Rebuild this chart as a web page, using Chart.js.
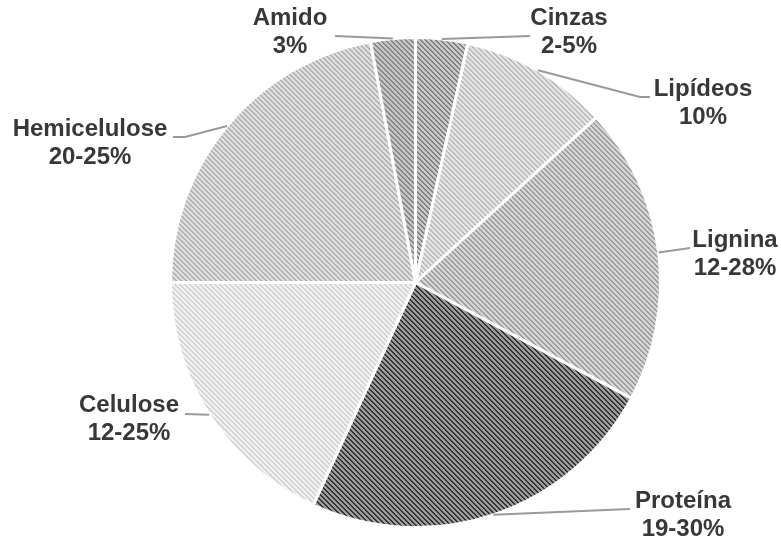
<!DOCTYPE html>
<html>
<head>
<meta charset="utf-8">
<script src="https://cdn.jsdelivr.net/npm/chart.js@4.4.1/dist/chart.umd.min.js"></script>
<style>
  html, body { margin: 0; padding: 0; background: #fff; }
  #wrap { width: 781px; height: 537px; }
</style>
</head>
<body>
<div id="wrap"><canvas id="pie" width="781" height="537"></canvas></div>
<script>
const components = ["Cinzas", "Lipídeos", "Lignina", "Proteína", "Celulose", "Hemicelulose", "Amido"];
const ranges = ["2-5%", "10%", "12-28%", "19-30%", "12-25%", "20-25%", "3%"];
// slice size = middle of each reported range
const shares = [3.5, 10, 20, 24.5, 18.5, 22.5, 3];

// hatch colours per slice: [ground, stripe]
const hatchColors = [
  ["#c8c8c8", "#808080"],
  ["#e4e4e4", "#bababa"],
  ["#d4d4d4", "#9c9c9c"],
  ["#9c9c9c", "#323232"],
  ["#f0f0f0", "#d2d2d2"],
  ["#dedede", "#b0b0b0"],
  ["#c4c4c4", "#868686"]
];

// leader bend points and text centre for each label
const labelLayout = [
  { path: [[530, 36]], x: 569, y: 18 },
  { path: [[640, 97], [650, 97]], x: 703, y: 89 },
  { path: [[690, 248]], x: 735, y: 240 },
  { path: [[630, 509]], x: 683, y: 501 },
  { path: [[185, 414]], x: 129, y: 405 },
  { path: [[185, 137], [173, 137]], x: 90, y: 129 },
  { path: [[335, 36]], x: 290, y: 18 }
];

// small tile with "\" stripes, 5px period
function hatch(ground, stripe) {
  const size = 5;
  const tile = document.createElement("canvas");
  tile.width = size;
  tile.height = size;
  const t = tile.getContext("2d");
  t.fillStyle = ground;
  t.fillRect(0, 0, size, size);
  t.fillStyle = stripe;
  for (let y = 0; y < size; y++) {
    for (let x = 0; x < size; x++) {
      const d = ((x - y) % size + size) % size;
      if (d === 0 || d === 1) t.fillRect(x, y, 1, 1);
    }
  }
  return t.createPattern(tile, "repeat");
}

const calloutPlugin = {
  id: "callouts",
  afterDatasetsDraw(chart) {
    const ctx = chart.ctx;
    const arcs = chart.getDatasetMeta(0).data;
    ctx.save();
    arcs.forEach((arc, i) => {
      const { x, y, startAngle, endAngle, outerRadius } =
        arc.getProps(["x", "y", "startAngle", "endAngle", "outerRadius"]);
      const mid = (startAngle + endAngle) / 2;
      const spot = labelLayout[i];

      ctx.strokeStyle = "#9a9a9a";
      ctx.lineWidth = 2;
      ctx.beginPath();
      ctx.moveTo(x + Math.cos(mid) * outerRadius, y + Math.sin(mid) * outerRadius);
      spot.path.forEach((p) => ctx.lineTo(p[0], p[1]));
      ctx.stroke();

      ctx.fillStyle = "#383838";
      ctx.font = "bold 24px 'Liberation Sans', Arial, sans-serif";
      ctx.textAlign = "center";
      ctx.textBaseline = "middle";
      ctx.fillText(components[i], spot.x, spot.y);
      ctx.fillText(ranges[i], spot.x, spot.y + 28);
    });
    ctx.restore();
  }
};

new Chart(document.getElementById("pie").getContext("2d"), {
  type: "pie",
  data: {
    labels: components,
    datasets: [{
      data: shares,
      backgroundColor: hatchColors.map((c) => hatch(c[0], c[1])),
      borderColor: "#ffffff",
      borderWidth: 3
    }]
  },
  options: {
    responsive: false,
    animation: false,
    layout: { padding: { top: 36, bottom: 8, left: 169, right: 119 } },
    plugins: {
      legend: { display: false },
      tooltip: { enabled: false }
    }
  },
  plugins: [calloutPlugin]
});
</script>
</body>
</html>
